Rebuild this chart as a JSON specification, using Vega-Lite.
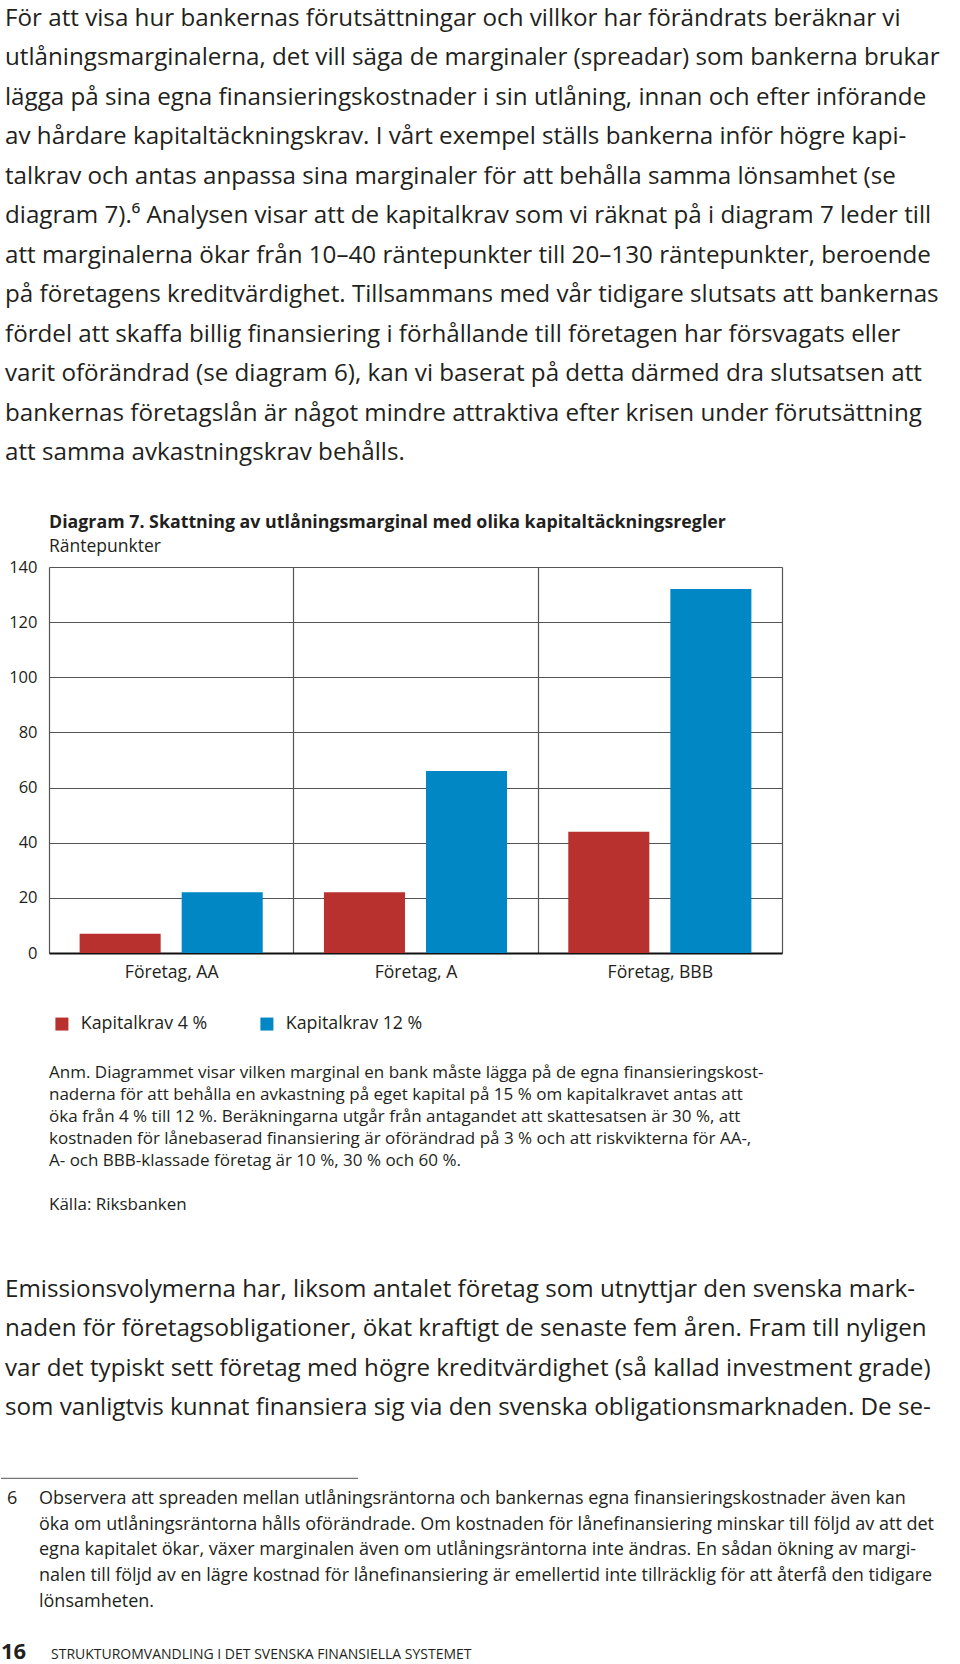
{
  "$schema": "https://vega.github.io/schema/vega-lite/v6.json",
  "background": "white",
  "padding": 0,
  "spacing": 0,
  "bounds": "flush",
  "config": {
    "view": {"stroke": null},
    "font": "Open Sans",
    "text": {"font": "Open Sans"}
  },
  "vconcat": [
    {
      "width": 733,
      "height": 567,
      "data": {"values": [
        {"line": 1, "text": "För att visa hur bankernas förutsättningar och villkor har förändrats beräknar vi"},
        {"line": 2, "text": "utlåningsmarginalerna, det vill säga de marginaler (spreadar) som bankerna brukar"},
        {"line": 3, "text": "lägga på sina egna finansieringskostnader i sin utlåning, innan och efter införande"},
        {"line": 4, "text": "av hårdare kapitaltäckningskrav. I vårt exempel ställs bankerna inför högre kapi-"},
        {"line": 5, "text": "talkrav och antas anpassa sina marginaler för att behålla samma lönsamhet (se"},
        {"line": 6, "text": "diagram 7).⁶ Analysen visar att de kapitalkrav som vi räknat på i diagram 7 leder till"},
        {"line": 7, "text": "att marginalerna ökar från 10–40 räntepunkter till 20–130 räntepunkter, beroende"},
        {"line": 8, "text": "på företagens kreditvärdighet. Tillsammans med vår tidigare slutsats att bankernas"},
        {"line": 9, "text": "fördel att skaffa billig finansiering i förhållande till företagen har försvagats eller"},
        {"line": 10, "text": "varit oförändrad (se diagram 6), kan vi baserat på detta därmed dra slutsatsen att"},
        {"line": 11, "text": "bankernas företagslån är något mindre attraktiva efter krisen under förutsättning"},
        {"line": 12, "text": "att samma avkastningskrav behålls."}
      ]},
      "mark": {"type": "text", "align": "left", "baseline": "alphabetic", "fontSize": 24.2, "fill": "#231f20"},
      "encoding": {
        "x": {"value": -44},
        "y": {"field": "line", "type": "quantitative", "scale": {"domain": [0.3418, 14.6962], "reverse": true, "nice": false, "zero": false}, "axis": null},
        "text": {"field": "text"}
      }
    },
    {
      "width": 733,
      "height": 386,
      "title": {
        "text": "Diagram 7. Skattning av utlåningsmarginal med olika kapitaltäckningsregler",
        "subtitle": "Räntepunkter",
        "anchor": "start",
        "frame": "group",
        "font": "Open Sans",
        "fontSize": 17.8,
        "fontWeight": "bold",
        "color": "#231f20",
        "subtitleFont": "Open Sans",
        "subtitleFontSize": 17.5,
        "subtitleColor": "#231f20",
        "subtitlePadding": 6,
        "offset": 4
      },
      "data": {"values": [
        {"foretag": "Företag, AA", "krav": "Kapitalkrav 4 %", "marginal": 7},
        {"foretag": "Företag, AA", "krav": "Kapitalkrav 12 %", "marginal": 22},
        {"foretag": "Företag, A", "krav": "Kapitalkrav 4 %", "marginal": 22},
        {"foretag": "Företag, A", "krav": "Kapitalkrav 12 %", "marginal": 66},
        {"foretag": "Företag, BBB", "krav": "Kapitalkrav 4 %", "marginal": 44},
        {"foretag": "Företag, BBB", "krav": "Kapitalkrav 12 %", "marginal": 132}
      ]},
      "mark": {"type": "bar"},
      "encoding": {
        "x": {
          "field": "foretag", "type": "nominal", "sort": null,
          "scale": {"paddingInner": 0, "paddingOuter": 0},
          "axis": {"title": null, "labelAngle": 0, "grid": true, "tickBand": "extent", "gridColor": "#555555", "gridWidth": 1.2, "ticks": false, "domainColor": "#111111", "domainWidth": 2, "labelFont": "Open Sans", "labelFontSize": 17.6, "labelPadding": 10, "labelColor": "#231f20"}
        },
        "xOffset": {"field": "krav", "type": "nominal", "sort": null, "scale": {"paddingInner": 0.206, "paddingOuter": 0.3}},
        "y": {
          "field": "marginal", "type": "quantitative",
          "scale": {"domain": [0, 140], "nice": false},
          "axis": {"title": null, "values": [0, 20, 40, 60, 80, 100, 120, 140], "grid": true, "gridColor": "#555555", "gridWidth": 1.2, "domain": false, "ticks": false, "labelPadding": 12, "labelFont": "Open Sans", "labelFontSize": 16.5, "labelColor": "#231f20"}
        },
        "color": {
          "field": "krav", "type": "nominal", "sort": null,
          "scale": {"range": ["#b8312e", "#0087c4"]},
          "legend": {"title": null, "orient": "none", "legendX": 4, "legendY": 1015, "direction": "horizontal", "symbolType": "square", "symbolSize": 169, "symbolStrokeWidth": 0, "symbolOpacity": 1, "labelFont": "Open Sans", "labelFontSize": 17.8, "labelColor": "#231f20", "labelOffset": 10, "columnPadding": 50}
        }
      }
    },
    {
      "width": 733,
      "height": 277,
      "data": {"values": [
        {"line": 1, "text": "Anm. Diagrammet visar vilken marginal en bank måste lägga på de egna finansieringskost-"},
        {"line": 2, "text": "naderna för att behålla en avkastning på eget kapital på 15 % om kapitalkravet antas att"},
        {"line": 3, "text": "öka från 4 % till 12 %. Beräkningarna utgår från antagandet att skattesatsen är 30 %, att"},
        {"line": 4, "text": "kostnaden för lånebaserad finansiering är oförändrad på 3 % och att riskvikterna för AA-,"},
        {"line": 5, "text": "A- och BBB-klassade företag är 10 %, 30 % och 60 %."},
        {"line": 7, "text": "Källa: Riksbanken"}
      ]},
      "mark": {"type": "text", "align": "left", "baseline": "alphabetic", "fontSize": 17, "fill": "#231f20"},
      "encoding": {
        "x": {"value": 0},
        "y": {"field": "line", "type": "quantitative", "scale": {"domain": [-4.682, 7.909], "reverse": true, "nice": false, "zero": false}, "axis": null},
        "text": {"field": "text"}
      }
    },
    {
      "width": 733,
      "height": 210,
      "data": {"values": [
        {"line": 1, "text": "Emissionsvolymerna har, liksom antalet företag som utnyttjar den svenska mark-"},
        {"line": 2, "text": "naden för företagsobligationer, ökat kraftigt de senaste fem åren. Fram till nyligen"},
        {"line": 3, "text": "var det typiskt sett företag med högre kreditvärdighet (så kallad investment grade)"},
        {"line": 4, "text": "som vanligtvis kunnat finansiera sig via den svenska obligationsmarknaden. De se-"}
      ]},
      "mark": {"type": "text", "align": "left", "baseline": "alphabetic", "fontSize": 24.2, "fill": "#231f20"},
      "encoding": {
        "x": {"value": -44},
        "y": {"field": "line", "type": "quantitative", "scale": {"domain": [-0.6962, 4.6203], "reverse": true, "nice": false, "zero": false}, "axis": null},
        "text": {"field": "text"}
      }
    },
    {
      "width": 733,
      "height": 224,
      "encoding": {
        "y": {"field": "line", "type": "quantitative", "scale": {"domain": [-1.4903, 7.2257], "reverse": true, "nice": false, "zero": false}, "axis": null}
      },
      "layer": [
        {
          "data": {"values": [{"line": 0}]},
          "mark": {"type": "rule", "stroke": "#555555", "strokeWidth": 1},
          "encoding": {"x": {"value": -48}, "x2": {"value": 309}}
        },
        {
          "data": {"values": [{"line": 1, "text": "6"}]},
          "mark": {"type": "text", "align": "left", "baseline": "alphabetic", "fontSize": 18, "fill": "#231f20"},
          "encoding": {"x": {"value": -42}, "text": {"field": "text"}}
        },
        {
          "data": {"values": [
            {"line": 1, "text": "Observera att spreaden mellan utlåningsräntorna och bankernas egna finansieringskostnader även kan"},
            {"line": 2, "text": "öka om utlåningsräntorna hålls oförändrade. Om kostnaden för lånefinansiering minskar till följd av att det"},
            {"line": 3, "text": "egna kapitalet ökar, växer marginalen även om utlåningsräntorna inte ändras. En sådan ökning av margi-"},
            {"line": 4, "text": "nalen till följd av en lägre kostnad för lånefinansiering är emellertid inte tillräcklig för att återfå den tidigare"},
            {"line": 5, "text": "lönsamheten."}
          ]},
          "mark": {"type": "text", "align": "left", "baseline": "alphabetic", "fontSize": 18, "fill": "#231f20"},
          "encoding": {"x": {"value": -10}, "text": {"field": "text"}}
        },
        {
          "data": {"values": [{"line": 7.05, "text": "16"}]},
          "mark": {"type": "text", "align": "left", "baseline": "alphabetic", "fontSize": 22, "fontWeight": "bold", "fill": "#231f20"},
          "encoding": {"x": {"value": -48}, "text": {"field": "text"}}
        },
        {
          "data": {"values": [{"line": 7.05, "text": "STRUKTUROMVANDLING I DET SVENSKA FINANSIELLA SYSTEMET"}]},
          "mark": {"type": "text", "align": "left", "baseline": "alphabetic", "fontSize": 14, "fill": "#231f20"},
          "encoding": {"x": {"value": 2}, "text": {"field": "text"}}
        }
      ]
    }
  ]
}
